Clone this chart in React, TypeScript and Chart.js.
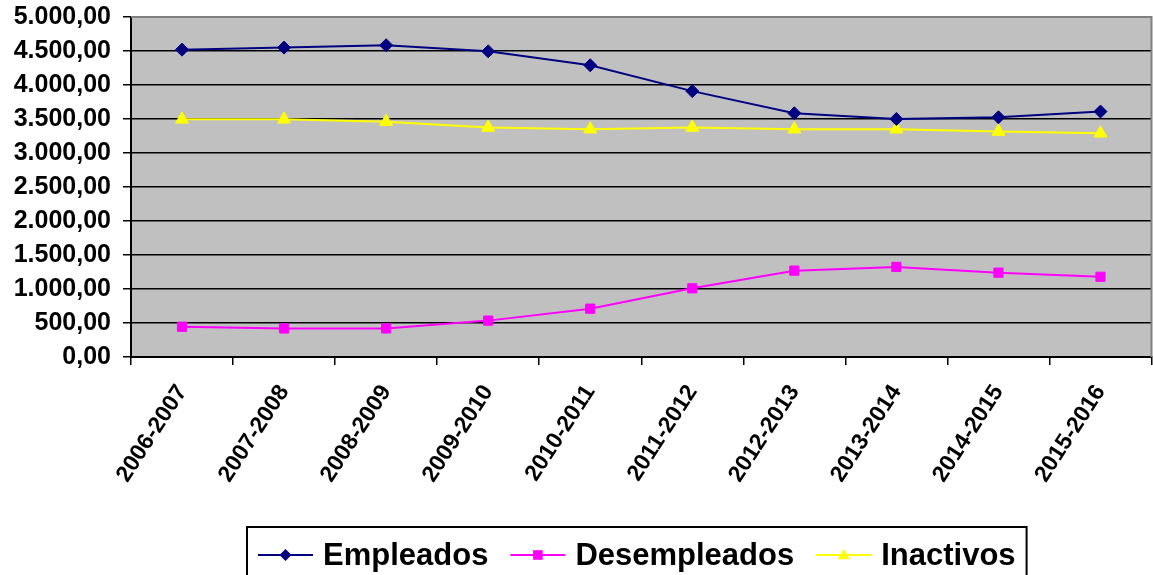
import React, { useEffect, useRef } from "react";
import { Chart, registerables } from "chart.js";

Chart.register(...registerables);

const categories = [
  "2006-2007", "2007-2008", "2008-2009", "2009-2010", "2010-2011",
  "2011-2012", "2012-2013", "2013-2014", "2014-2015", "2015-2016",
];
const empleados = [4520, 4550, 4585, 4495, 4290, 3910, 3585, 3500, 3525, 3610];
const desempleados = [445, 420, 420, 535, 710, 1010, 1270, 1325, 1240, 1180];
const inactivos = [3495, 3495, 3460, 3375, 3350, 3375, 3350, 3350, 3315, 3290];
const seriesNames = ["Empleados", "Desempleados", "Inactivos"];
const seriesColors = ["#000080", "#FF00FF", "#FFFF00"];
const seriesMarkers = ["rectRot", "rect", "triangle"];
const yMin = 0;
const yMax = 5000;
const yStep = 500;

const FONT = "Arial, 'Liberation Sans', sans-serif";

function fmt(v: number): string {
  const fixed = Math.abs(v).toFixed(2);
  const [intPart, dec] = fixed.split(".");
  const grouped = intPart.replace(/\B(?=(\d{3})+(?!\d))/g, ".");
  return (v < 0 ? "-" : "") + grouped + "," + dec;
}

const bgPlugin = {
  id: "plotBg",
  beforeDraw(chart: any) {
    const { ctx, chartArea: a } = chart;
    ctx.save();
    ctx.fillStyle = "#C0C0C0";
    ctx.fillRect(a.left, a.top, a.right - a.left, a.bottom - a.top);
    ctx.restore();
  },
  afterDatasetsDraw(chart: any) {
    const { ctx, chartArea: a } = chart;
    ctx.save();
    ctx.strokeStyle = "#808080";
    ctx.lineWidth = 2;
    ctx.beginPath();
    ctx.moveTo(a.left, a.top);
    ctx.lineTo(a.right, a.top);
    ctx.lineTo(a.right, a.bottom);
    ctx.stroke();
    ctx.restore();
  },
};

function drawMarker(ctx: CanvasRenderingContext2D, style: string, x: number, y: number, r: number, color: string) {
  ctx.fillStyle = color;
  ctx.beginPath();
  if (style === "rectRot") {
    ctx.moveTo(x - r, y);
    ctx.lineTo(x, y - r);
    ctx.lineTo(x + r, y);
    ctx.lineTo(x, y + r);
  } else if (style === "rect") {
    ctx.rect(x - r * 0.8, y - r * 0.8, r * 1.6, r * 1.6);
  } else {
    ctx.moveTo(x, y - r);
    ctx.lineTo(x + r, y + r * 0.7);
    ctx.lineTo(x - r, y + r * 0.7);
  }
  ctx.closePath();
  ctx.fill();
}

const legendPlugin = {
  id: "boxLegend",
  afterDraw(chart: any) {
    const { ctx } = chart;
    const font = `bold 31px ${FONT}`;
    ctx.save();
    ctx.font = font;
    const lineLen = 55;
    const gapText = 10;
    const gapItem = 22;
    const padX = 11;
    const widths = seriesNames.map((n) => ctx.measureText(n).width);
    let total = padX * 2;
    widths.forEach((w, i) => {
      total += lineLen + gapText + w + (i < widths.length - 1 ? gapItem : 0);
    });
    const left = 247;
    const top = 527;
    ctx.strokeStyle = "#000";
    ctx.lineWidth = 2;
    ctx.strokeRect(left, top, total, 80);
    const cy = 555;
    let x = left + padX;
    seriesNames.forEach((n, i) => {
      ctx.strokeStyle = seriesColors[i];
      ctx.lineWidth = 2;
      ctx.beginPath();
      ctx.moveTo(x, cy);
      ctx.lineTo(x + lineLen, cy);
      ctx.stroke();
      drawMarker(ctx, seriesMarkers[i], x + lineLen / 2, cy, 6, seriesColors[i]);
      x += lineLen + gapText;
      ctx.fillStyle = "#000";
      ctx.textBaseline = "middle";
      ctx.textAlign = "left";
      ctx.fillText(n, x, cy + 1);
      x += widths[i] + gapItem;
    });
    ctx.restore();
  },
};

export default function App() {
  const ref = useRef<HTMLCanvasElement | null>(null);
  useEffect(() => {
    if (!ref.current) return;
    const seriesData = [empleados, desempleados, inactivos];
    const radii = [6.5, 6.5, 7.5];
    const chart = new Chart(ref.current, {
      type: "line",
      data: {
        labels: categories,
        datasets: seriesNames.map((name, i) => ({
          label: name,
          data: seriesData[i],
          borderColor: seriesColors[i],
          backgroundColor: seriesColors[i],
          borderWidth: 2,
          pointStyle: seriesMarkers[i] as any,
          pointRadius: radii[i],
          pointBorderWidth: 1,
          pointBackgroundColor: seriesColors[i],
          pointBorderColor: seriesColors[i],
          tension: 0,
        })),
      },
      options: {
        animation: false,
        responsive: false,
        maintainAspectRatio: false,
        layout: { padding: { top: 17, right: 0, bottom: 0, left: 0 } },
        plugins: {
          legend: { display: false },
          tooltip: { enabled: false },
        },
        scales: {
          x: {
            type: "category",
            offset: true,
            grid: {
              display: true,
              offset: true,
              drawOnChartArea: false,
              drawTicks: true,
              tickLength: 8,
              color: "#000",
              lineWidth: 1.5,
            },
            border: { display: true, color: "#000", width: 2 },
            ticks: {
              color: "#000",
              font: { family: FONT, size: 23, weight: "bold" },
              maxRotation: 57,
              minRotation: 57,
              autoSkip: false,
              padding: 15,
            },
            afterFit(scale: any) {
              scale.height = 218;
              scale.paddingLeft = 0;
              scale.paddingRight = 0;
            },
          },
          y: {
            min: yMin,
            max: yMax,
            ticks: {
              stepSize: yStep,
              color: "#000",
              font: { family: FONT, size: 25, weight: "bold" },
              padding: 12,
              callback: (v: any) => fmt(Number(v)),
            },
            grid: {
              color: (c: any) => (c.tick && c.tick.value === yMax ? "rgba(0,0,0,0)" : "#000"),
              lineWidth: 1.5,
              tickLength: 8,
              drawTicks: true,
              tickColor: "#000",
            },
            border: { display: true, color: "#000", width: 2 },
            afterFit(scale: any) {
              scale.width = 131;
              scale.paddingTop = 0;
              scale.paddingBottom = 0;
              scale.paddingLeft = 0;
              scale.paddingRight = 0;
            },
          },
        },
      },
      plugins: [bgPlugin, legendPlugin],
    });
    return () => chart.destroy();
  }, []);
  return (
    <div style={{ position: "absolute", left: 0, top: 0, width: 1153, height: 575, overflow: "hidden", background: "#fff" }}>
      <canvas ref={ref} width={1160} height={575} style={{ display: "block" }} />
    </div>
  );
}
